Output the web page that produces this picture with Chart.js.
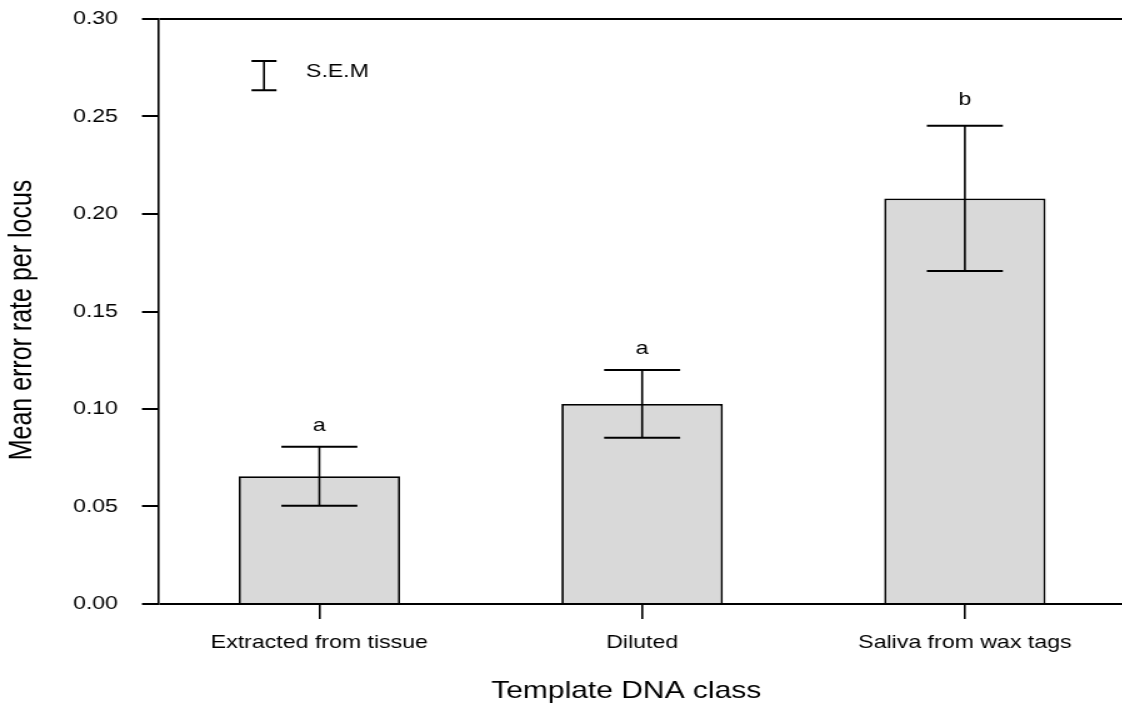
<!DOCTYPE html>
<html>
<head>
<meta charset="utf-8">
<script src="https://cdn.jsdelivr.net/npm/chart.js@4/dist/chart.umd.min.js"></script>
<style>
  html, body { margin: 0; padding: 0; background: #fff; overflow: hidden; }
  /* the original figure is stretched sideways, so draw narrow and widen it */
  #wrap { width: 902px; height: 714px; transform: scaleX(1.25); transform-origin: 0 0; }
</style>
</head>
<body>
<div id="wrap"><canvas id="errors" width="902" height="714"></canvas></div>
<script>
const classes = ['Extracted from tissue', 'Diluted', 'Saliva from wax tags'];
const meanError = [0.0655, 0.1026, 0.208];
const semError = [0.0151, 0.0174, 0.0372];
const groupLetters = ['a', 'a', 'b'];
const yTicks = [0, 0.05, 0.10, 0.15, 0.20, 0.25, 0.30];
const semKeyMid = 0.271;
const semKeyHalf = 0.0075;

Chart.defaults.font.family = "'Liberation Sans', Arial, sans-serif";
Chart.defaults.color = '#000';

const errorBars = {
  id: 'errorBars',
  afterDatasetsDraw(chart) {
    const ctx = chart.ctx;
    const x = chart.scales.x, y = chart.scales.y;
    const hw = 30.4;
    ctx.save();
    ctx.strokeStyle = '#000';
    ctx.fillStyle = '#000';
    ctx.font = "18.5px 'Liberation Sans', Arial, sans-serif";
    ctx.textAlign = 'center';
    ctx.textBaseline = 'alphabetic';
    meanError.forEach((m, i) => {
      const cx = x.getPixelForValue(i);
      const top = y.getPixelForValue(m + semError[i]);
      const bot = y.getPixelForValue(m - semError[i]);
      ctx.lineWidth = 1.6;
      ctx.beginPath();
      ctx.moveTo(cx, top); ctx.lineTo(cx, bot);
      ctx.stroke();
      ctx.lineWidth = 2;
      ctx.beginPath();
      ctx.moveTo(cx - hw, top); ctx.lineTo(cx + hw, top);
      ctx.moveTo(cx - hw, bot); ctx.lineTo(cx + hw, bot);
      ctx.stroke();
      ctx.fillText(groupLetters[i], cx, top - (groupLetters[i] === 'b' ? 21 : 16));
    });

    // S.E.M key
    const kx = chart.chartArea.left + 84.8;
    const kt = y.getPixelForValue(semKeyMid + semKeyHalf);
    const kb = y.getPixelForValue(semKeyMid - semKeyHalf);
    ctx.lineWidth = 1.6;
    ctx.beginPath();
    ctx.moveTo(kx, kt); ctx.lineTo(kx, kb);
    ctx.stroke();
    ctx.lineWidth = 2;
    ctx.beginPath();
    ctx.moveTo(kx - 10, kt); ctx.lineTo(kx + 10, kt);
    ctx.moveTo(kx - 10, kb); ctx.lineTo(kx + 10, kb);
    ctx.stroke();
    ctx.textAlign = 'left';
    ctx.textBaseline = 'middle';
    ctx.fillText('S.E.M', kx + 33.6, (kt + kb) / 2 - 4);
    ctx.restore();
  },
  afterDraw(chart) {
    const ctx = chart.ctx;
    ctx.save();
    ctx.fillStyle = '#000';
    ctx.font = "24px 'Liberation Sans', Arial, sans-serif";
    ctx.textAlign = 'center';
    ctx.textBaseline = 'alphabetic';
    ctx.fillText('Template DNA class', 501, 698);
    ctx.font = "25px 'Liberation Sans', Arial, sans-serif";
    ctx.translate(18, 320);
    ctx.rotate(-Math.PI / 2);
    ctx.textBaseline = 'middle';
    ctx.fillText('Mean error rate per locus', 0, 0);
    ctx.restore();
  }
};

new Chart(document.getElementById('errors').getContext('2d'), {
  type: 'bar',
  data: {
    labels: classes,
    datasets: [{
      data: meanError,
      backgroundColor: '#d9d9d9',
      borderColor: '#000',
      borderWidth: 1.8,
      barPercentage: 0.5,
      categoryPercentage: 1
    }]
  },
  options: {
    responsive: false,
    animation: false,
    layout: { padding: { left: 0, right: 1, top: 19, bottom: 0 } },
    plugins: {
      legend: { display: false },
      tooltip: { enabled: false }
    },
    scales: {
      x: {
        afterFit: s => { s.height = 110; s.paddingLeft = 0; s.paddingRight = 0; },
        grid: {
          offset: false,
          drawOnChartArea: false,
          color: '#000',
          tickColor: '#000',
          tickLength: 15,
          lineWidth: 1.6
        },
        border: { display: false },
        ticks: {
          color: '#000',
          font: { size: 18.5 },
          padding: 13,
          maxRotation: 0,
          autoSkip: false
        }
      },
      y: {
        min: 0,
        max: 0.3,
        afterFit: s => { s.width = 126.4; s.paddingTop = 0; s.paddingBottom = 0; },
        afterBuildTicks: s => { s.ticks = yTicks.map(v => ({ value: v })); },
        grid: {
          color: c => (c.tick && (c.tick.value === 0 || c.tick.value === 0.3)) ? '#000' : 'rgba(0,0,0,0)',
          tickColor: '#000',
          tickLength: 12.8,
          lineWidth: 2
        },
        border: { display: true, color: '#000', width: 1.6 },
        ticks: {
          color: '#000',
          font: { size: 18.5 },
          padding: 19.2,
          callback: v => v.toFixed(2)
        }
      }
    }
  },
  plugins: [errorBars]
});
</script>
</body>
</html>
